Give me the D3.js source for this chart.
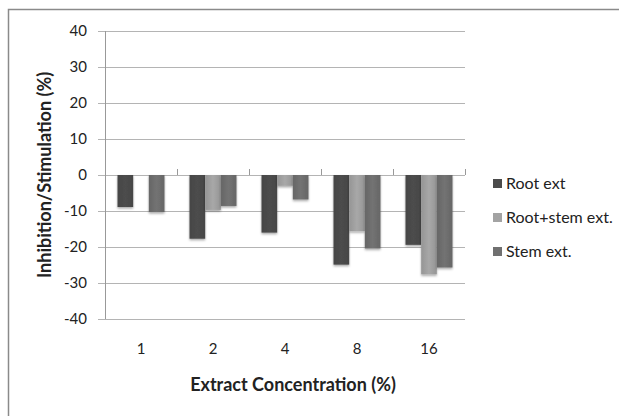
<!DOCTYPE html>
<html>
<head>
<meta charset="utf-8">
<script src="https://cdn.jsdelivr.net/npm/d3@7"></script>
<style>
  body { margin: 0; background: #fff; }
  text { font-family: Lato, "Open Sans", "Noto Sans", sans-serif; }
</style>
</head>
<body>
<div id="my_dataviz"></div>
<script>
// chart values
var categories = ["1", "2", "4", "8", "16"];
var seriesNames = ["Root ext", "Root+stem ext.", "Stem ext."];
var rootExt = [-8.9, -17.7, -16.0, -24.9, -19.4];
var rootStemExt = [0, -9.7, -3.0, -15.6, -27.6];
var stemExt = [-10.3, -8.6, -6.8, -20.4, -25.7];
var yTicks = [40, 30, 20, 10, 0, -10, -20, -30, -40];

var seriesValues = [rootExt, rootStemExt, stemExt];
var colors = ["#4b4b4b", "#a3a3a3", "#707070"];

var W = 619, H = 416;
var margin = {top: 31, left: 105, right: 154, bottom: 97};
var width = W - margin.left - margin.right,
    height = H - margin.top - margin.bottom;

var svg = d3.select("#my_dataviz").append("svg")
    .attr("width", W).attr("height", H);

// outer chart border (only top/left visible)
svg.append("rect")
    .attr("x", 8.5).attr("y", 9.5)
    .attr("width", 640).attr("height", 440)
    .attr("fill", "none").attr("stroke", "#8a8a8a").attr("stroke-width", 1.5);

var defs = svg.append("defs");
colors.forEach(function(c, i) {
  var g = defs.append("linearGradient").attr("id", "grad" + i)
      .attr("x1", "0%").attr("x2", "100%").attr("y1", "0%").attr("y2", "0%");
  g.append("stop").attr("offset", "0%").attr("stop-color", d3.color(c).darker(0.25));
  g.append("stop").attr("offset", "50%").attr("stop-color", d3.color(c).brighter(0.08));
  g.append("stop").attr("offset", "100%").attr("stop-color", d3.color(c).darker(0.25));
});
var blur = defs.append("filter").attr("id", "shadow")
    .attr("x", "-20%").attr("y", "-10%").attr("width", "140%").attr("height", "130%");
blur.append("feDropShadow").attr("dx", 0).attr("dy", 1.5).attr("stdDeviation", 1)
    .attr("flood-color", "#000").attr("flood-opacity", 0.35);

var g = svg.append("g").attr("transform", "translate(" + margin.left + "," + margin.top + ")");

var x = d3.scaleBand().domain(categories).range([0, width]).paddingInner(0).paddingOuter(0);
var xSub = d3.scaleBand().domain(d3.range(seriesNames.length))
    .range([0, x.bandwidth()]).paddingInner(0).paddingOuter(0.8);
var y = d3.scaleLinear().domain([-40, 40]).range([height, 0]);

// gridlines
g.append("g").selectAll("line").data(yTicks).enter().append("line")
    .attr("x1", -7).attr("x2", width)
    .attr("y1", function(d) { return Math.round(y(d)) + 0.5; })
    .attr("y2", function(d) { return Math.round(y(d)) + 0.5; })
    .attr("stroke", "#b4b4b4").attr("stroke-width", 1);

// y axis labels
g.append("g").selectAll("text").data(yTicks).enter().append("text")
    .attr("x", -18).attr("y", function(d) { return y(d); })
    .attr("dy", "0.35em").attr("text-anchor", "end")
    .attr("font-size", 15).attr("fill", "#222")
    .text(function(d) { return d; });

// bars
var groups = g.append("g").selectAll("g").data(seriesValues).enter().append("g")
    .attr("fill", function(d, i) { return "url(#grad" + i + ")"; })
    .attr("filter", "url(#shadow)");
groups.each(function(vals, si) {
  d3.select(this).selectAll("rect").data(vals).enter().append("rect")
    .attr("x", function(d, ci) { return x(categories[ci]) + xSub(si); })
    .attr("width", xSub.bandwidth())
    .attr("y", function(d) { return y(Math.max(0, d)); })
    .attr("height", function(d) { return Math.abs(y(d) - y(0)); });
});

// category tick marks on zero line
g.append("g").selectAll("line").data(d3.range(categories.length + 1)).enter().append("line")
    .attr("x1", function(i) { return Math.round(i * x.step()) + 0.5; })
    .attr("x2", function(i) { return Math.round(i * x.step()) + 0.5; })
    .attr("y1", y(0)).attr("y2", y(0) - 6)
    .attr("stroke", "#999");

// y axis line
g.append("line").attr("x1", 0.5).attr("x2", 0.5).attr("y1", 0).attr("y2", height)
    .attr("stroke", "#999");

// x labels
g.append("g").selectAll("text").data(categories).enter().append("text")
    .attr("x", function(d) { return x(d) + x.bandwidth() / 2; })
    .attr("y", height + 35).attr("text-anchor", "middle")
    .attr("font-size", 15).attr("fill", "#222")
    .text(function(d) { return d; });

// axis titles
svg.append("text").attr("x", 293).attr("y", 391)
    .attr("text-anchor", "middle").attr("font-size", 18).attr("font-weight", "bold")
    .attr("fill", "#222").text("Extract Concentration (%)");
svg.append("text").attr("transform", "translate(51,175) rotate(-90)")
    .attr("text-anchor", "middle").attr("font-size", 18).attr("font-weight", "bold")
    .attr("fill", "#222").text("Inhibition/Stimulation (%)");

// legend
var legend = svg.append("g").selectAll("g").data(seriesNames).enter().append("g")
    .attr("transform", function(d, i) { return "translate(493," + (183 + i * 34) + ")"; });
legend.append("rect").attr("x", 0).attr("y", -4).attr("width", 9).attr("height", 9)
    .attr("fill", function(d, i) { return colors[i]; });
legend.append("text").attr("x", 13).attr("y", 0).attr("dy", "0.35em")
    .attr("font-size", 16).attr("fill", "#222").text(function(d) { return d; });
</script>
</body>
</html>
